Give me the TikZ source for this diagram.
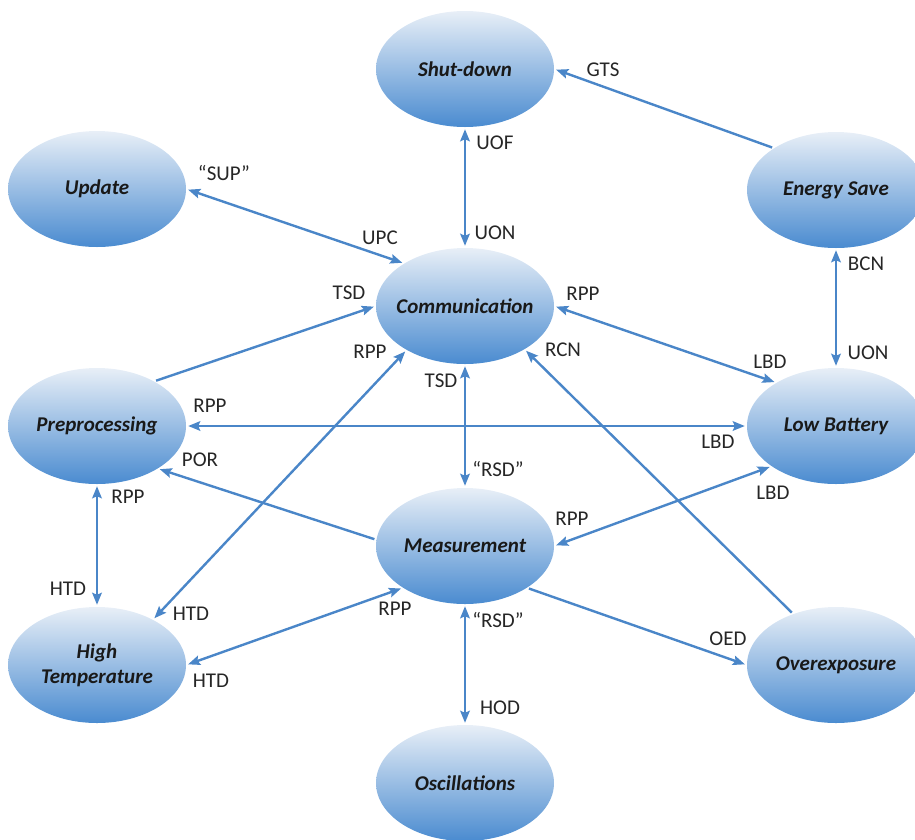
\documentclass[tikz,border=0pt]{standalone}
\usepackage{fontspec}
\setmainfont{Carlito}
\usetikzlibrary{shapes.geometric}
\usetikzlibrary{arrows.meta}
\usepackage[svgnames]{xcolor}
\definecolor{linkblue}{HTML}{4A86C8}
\definecolor{ovaltop}{HTML}{E8EFF7}
\definecolor{ovalmid}{HTML}{A0C2E6}
\definecolor{ovalbot}{HTML}{4A8BD0}
\tikzset{>={Stealth[length=12pt,width=9.5pt,inset=2pt]}}
\tikzset{
  state/.style={ellipse, minimum width=178pt, minimum height=116pt,
    inner xsep=-10pt, inner ysep=0pt,
    top color=ovaltop, middle color=ovalmid, bottom color=ovalbot,
    align=center, text=black!90, font=\fontsize{21}{25}\selectfont\bfseries\itshape},
  link/.style={draw=linkblue, line width=2.4pt, shorten >=2pt, shorten <=2pt},
  lbl/.style={text=black!85, inner sep=0pt, font=\fontsize{21}{24}\selectfont}
}

\begin{document}
\begin{tikzpicture}[x=1pt,y=1pt]
  \useasboundingbox (0,0) rectangle (915,-839);

  % 状态节点
  \node[state] (sd)  at (465,-69)  {Shut-down};
  \node[state] (upd) at (97,-189)  {Update};
  \node[state] (es)  at (836,-190) {Energy Save};
  \node[state] (com) at (465,-306) {Communication};
  \node[state] (pre) at (97,-426)  {Preprocessing};
  \node[state] (lb)  at (836,-426) {Low Battery};
  \node[state] (mea) at (465,-546) {Measurement};
  \node[state] (ht)  at (97,-665)  {High\\Temperature};
  \node[state] (oe)  at (836,-665) {Overexposure};
  \node[state] (osc) at (465,-783) {Oscillations};

  % 转移
  \draw[link,<->] (sd.south) -- (com.north);
  \draw[link,->]  (es.146) -- (sd.east);
  \draw[link,<->] (upd.east) -- (com.145);
  \draw[link,->]  (pre.38) -- (com.west);
  \draw[link,<->] (ht.39) -- (com.217);
  \draw[link,<->] (com.south) -- (mea.north);
  \draw[link,->]  (oe.130) -- (com.324);
  \draw[link,<->] (com.east) -- (lb.144);
  \draw[link,<->] (es.south) -- (lb.north);
  \draw[link,<->] (pre.east) -- (lb.west);
  \draw[link,->]  (mea.176) -- (pre.325);
  \draw[link,<->] (pre.south) -- (ht.north);
  \draw[link,<->] (mea.east) -- (lb.212);
  \draw[link,<->] (ht.east) -- (mea.214);
  \draw[link,->]  (mea.326) -- (oe.west);
  \draw[link,<->] (mea.south) -- (osc.north);

  % 转移标签
  \node[lbl] (lUOF)  at (495,-143) {UOF};
  \node[lbl] (lUONa) at (495,-233) {UON};
  \node[lbl] (lGTS)  at (603,-70)  {GTS};
  \node[lbl] (lSUP)  at (224,-173) {“SUP”};
  \node[lbl] (lUPC)  at (380,-238) {UPC};
  \node[lbl] (lTSDa) at (349,-293) {TSD};
  \node[lbl] (lRPPa) at (370,-352) {RPP};
  \node[lbl] (lTSDb) at (441,-381) {TSD};
  \node[lbl] (lRPPb) at (583,-294) {RPP};
  \node[lbl] (lRCN)  at (563,-350) {RCN};
  \node[lbl] (lBCN)  at (866,-264) {BCN};
  \node[lbl] (lUONb) at (868,-353) {UON};
  \node[lbl] (lLBDa) at (770,-362) {LBD};
  \node[lbl] (lRPPc) at (210,-406) {RPP};
  \node[lbl] (lLBDb) at (718,-442) {LBD};
  \node[lbl] (lRSDa) at (498,-469) {“RSD”};
  \node[lbl] (lPOR)  at (200,-460) {POR};
  \node[lbl] (lRPPd) at (128,-497) {RPP};
  \node[lbl] (lRPPe) at (572,-519) {RPP};
  \node[lbl] (lLBDc) at (773,-493) {LBD};
  \node[lbl] (lHTDa) at (68,-589)  {HTD};
  \node[lbl] (lHTDb) at (191,-614) {HTD};
  \node[lbl] (lRPPf) at (395,-609) {RPP};
  \node[lbl] (lHTDc) at (211,-681) {HTD};
  \node[lbl] (lRSDb) at (498,-620) {“RSD”};
  \node[lbl] (lHOD)  at (500,-708) {HOD};
  \node[lbl] (lOED)  at (728,-639) {OED};
\end{tikzpicture}
\end{document}
